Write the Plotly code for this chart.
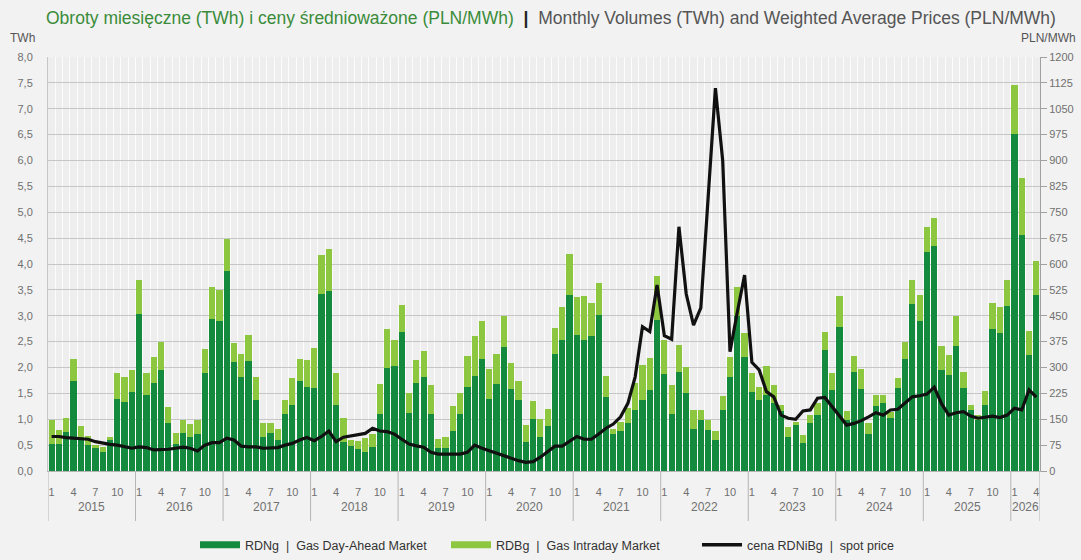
import plotly.graph_objects as go

# ---------------- data ----------------
years = [2015, 2016, 2017, 2018, 2019, 2020, 2021, 2022, 2023, 2024, 2025, 2026]
months_in_year = [12, 12, 12, 12, 12, 12, 12, 12, 12, 12, 12, 4]
month_ticks_shown = [1, 4, 7, 10]

# RDNg | Gas Day-Ahead Market (TWh)
rdng = [
    0.53, 0.53, 0.76, 1.74, 0.63, 0.50, 0.44, 0.37, 0.60, 1.40, 1.34, 1.52,   # 2015
    3.03, 1.47, 1.71, 1.96, 0.92, 0.53, 0.73, 0.66, 0.71, 1.90, 2.93, 2.89,   # 2016
    3.87, 2.10, 1.82, 2.13, 1.38, 0.65, 0.73, 0.60, 1.10, 1.28, 1.74, 1.62,   # 2017
    1.60, 3.43, 3.48, 1.28, 0.57, 0.48, 0.42, 0.37, 0.47, 1.10, 2.00, 2.03,   # 2018
    2.69, 1.13, 1.71, 1.82, 1.11, 0.44, 0.44, 0.77, 1.10, 1.63, 1.84, 2.16,   # 2019
    1.40, 1.69, 2.40, 1.58, 1.37, 0.57, 1.00, 0.66, 0.87, 2.26, 2.53, 3.40,   # 2020
    2.62, 2.53, 2.60, 3.01, 1.43, 0.71, 0.77, 0.92, 1.18, 1.37, 1.56, 2.92,   # 2021
    1.87, 1.10, 1.91, 1.51, 0.82, 0.99, 0.79, 0.60, 1.18, 1.82, 3.00, 2.21,   # 2022
    1.53, 1.37, 1.47, 1.31, 1.15, 0.66, 0.89, 0.55, 0.92, 1.08, 2.34, 1.56,   # 2023
    2.78, 0.99, 1.91, 1.59, 0.72, 1.25, 1.31, 1.03, 1.60, 2.16, 3.22, 2.90,   # 2024
    4.24, 4.34, 1.95, 1.86, 2.42, 1.60, 1.17, 0.99, 1.28, 2.74, 2.66, 3.18,   # 2025
    6.51, 4.57, 2.24, 3.40,                                                   # 2026
]

# RDBg | Gas Intraday Market (TWh)
rdbg = [
    0.46, 0.26, 0.26, 0.42, 0.24, 0.18, 0.06, 0.09, 0.06, 0.50, 0.48, 0.43,   # 2015
    0.66, 0.43, 0.50, 0.53, 0.32, 0.21, 0.26, 0.25, 0.28, 0.45, 0.62, 0.61,   # 2016
    0.61, 0.38, 0.45, 0.49, 0.44, 0.27, 0.19, 0.22, 0.28, 0.51, 0.42, 0.52,   # 2017
    0.78, 0.74, 0.81, 0.61, 0.45, 0.12, 0.16, 0.27, 0.24, 0.59, 0.74, 0.51,   # 2018
    0.52, 0.38, 0.43, 0.50, 0.55, 0.17, 0.22, 0.49, 0.40, 0.59, 0.76, 0.74,   # 2019
    0.58, 0.57, 0.60, 0.51, 0.37, 0.32, 0.36, 0.34, 0.32, 0.50, 0.63, 0.79,   # 2020
    0.75, 0.86, 0.64, 0.63, 0.41, 0.11, 0.18, 0.30, 0.53, 0.68, 0.62, 0.84,   # 2021
    0.66, 0.56, 0.53, 0.50, 0.36, 0.18, 0.19, 0.18, 0.26, 0.39, 0.56, 0.45,   # 2022
    0.37, 0.25, 0.56, 0.35, 0.13, 0.20, 0.06, 0.15, 0.16, 0.23, 0.34, 0.33,   # 2023
    0.60, 0.16, 0.32, 0.39, 0.21, 0.22, 0.16, 0.11, 0.19, 0.33, 0.48, 0.50,   # 2024
    0.48, 0.54, 0.47, 0.38, 0.58, 0.31, 0.11, 0.09, 0.27, 0.51, 0.50, 0.51,   # 2025
    0.94, 1.10, 0.47, 0.65,                                                   # 2026
]

# cena RDNiBg | spot price (PLN/MWh)
price = [
    100, 100, 97, 95, 93, 92, 85, 80, 77, 75, 70, 66,              # 2015
    70, 68, 61, 61, 63, 66, 69, 66, 58, 75, 82, 82,                # 2016
    95, 90, 72, 70, 70, 66, 66, 68, 75, 80, 90, 97,                # 2017
    88, 100, 116, 85, 98, 101, 104, 109, 124, 116, 114, 107,       # 2018
    92, 78, 73, 69, 54, 49, 49, 49, 49, 54, 75, 66,                # 2019
    59, 51, 43, 37, 30, 25, 27, 40, 56, 72, 72, 85,                # 2020
    100, 92, 92, 107, 124, 136, 157, 196, 273, 418, 404, 539,      # 2021
    392, 382, 708, 513, 423, 473, 780, 1110, 900, 346, 460, 568,   # 2022
    315, 293, 230, 215, 162, 153, 150, 174, 177, 211, 213, 186,    # 2023
    157, 133, 138, 146, 157, 169, 162, 177, 179, 196, 215, 218,    # 2024
    223, 243, 195, 162, 169, 172, 159, 153, 155, 159, 155, 162,    # 2025
    182, 177, 235, 214,                                            # 2026
]

# ---------------- derived x positions ----------------
x = []
month_num = []
year_start_idx = []
idx = 0
for yr, nm in zip(years, months_in_year):
    year_start_idx.append(idx)
    for m in range(1, nm + 1):
        x.append(idx)
        month_num.append(m)
        idx += 1
n = len(x)

tickvals = [i for i, m in zip(x, month_num) if m in month_ticks_shown]
ticktext = [str(m) for m, i in zip(month_num, x) if m in month_ticks_shown]

# ---------------- pixel helpers ----------------
W, H = 1081, 560
L, R, T, B = 48, 41, 57, 89
PW, PH = W - L - R, H - T - B


def px_x(p):
    return (p - L) / PW


def px_y(p):
    return (H - B - p) / PH


DARK = "#148a3f"
LIGHT = "#8dc63f"
FONT = "Liberation Sans, Arial, sans-serif"
TICK_COLOR = "#707070"

fig = go.Figure()
fig.add_trace(go.Bar(x=x, y=rdng, marker=dict(color=DARK, line=dict(width=0)),
                     name="RDNg  |  Gas Day-Ahead Market", showlegend=False))
fig.add_trace(go.Bar(x=x, y=rdbg, marker=dict(color=LIGHT, line=dict(width=0)),
                     name="RDBg  |  Gas Intraday Market", showlegend=False))
fig.add_trace(go.Scatter(x=x, y=price, yaxis="y2", mode="lines",
                         line=dict(color="#111111", width=3.2),
                         name="cena RDNiBg  |  spot price", showlegend=False))

# legend entries (wide swatches like the reference)
fig.add_trace(go.Scatter(x=[None], y=[None], mode="lines",
                         line=dict(color=DARK, width=7),
                         name="RDNg  |  Gas Day-Ahead Market"))
fig.add_trace(go.Scatter(x=[None], y=[None], mode="lines",
                         line=dict(color=LIGHT, width=7),
                         name="RDBg  |  Gas Intraday Market"))
fig.add_trace(go.Scatter(x=[None], y=[None], mode="lines",
                         line=dict(color="#111111", width=3.5),
                         name="cena RDNiBg  |  spot price"))

shapes = []
bounds = year_start_idx + [n]
for b in bounds:
    shapes.append(dict(type="line", xref="x", yref="paper",
                       x0=b - 0.5, x1=b - 0.5, y0=0, y1=px_y(521),
                       line=dict(color="#b5b5b5", width=1)))

annotations = []
for yr, s, nm in zip(years, year_start_idx, months_in_year):
    annotations.append(dict(x=s + (nm - 1) / 2, y=px_y(507), xref="x", yref="paper",
                            text=str(yr), showarrow=False, yanchor="middle",
                            font=dict(size=12, color=TICK_COLOR, family=FONT)))

title_text = ("<span style='color:#3a8c3a'>Obroty miesięczne (TWh) i ceny średnioważone (PLN/MWh)</span>"
              "<span style='color:#222'>  <b>|</b>  </span>"
              "<span style='color:#555'>Monthly Volumes (TWh) and Weighted Average Prices (PLN/MWh)</span>")
annotations.append(dict(x=px_x(551), y=px_y(18), xref="paper", yref="paper",
                        text=title_text, showarrow=False, xanchor="center", yanchor="middle",
                        font=dict(size=17.5, family=FONT)))
annotations.append(dict(x=px_x(8), y=px_y(38), xref="paper", yref="paper",
                        text="TWh", showarrow=False, xanchor="left", yanchor="middle",
                        font=dict(size=12, color="#555", family=FONT)))
annotations.append(dict(x=px_x(1078), y=px_y(38), xref="paper", yref="paper",
                        text="PLN/MWh", showarrow=False, xanchor="right", yanchor="middle",
                        font=dict(size=12, color="#555", family=FONT)))

fig.update_layout(
    width=W, height=H, autosize=False,
    margin=dict(l=L, r=R, t=T, b=B, pad=0, autoexpand=False),
    paper_bgcolor="#f2f2f2",
    plot_bgcolor="#eeeeee",
    separators=", ",
    barmode="stack",
    bargap=0.14,
    font=dict(family=FONT, color="#444"),
    shapes=shapes,
    annotations=annotations,
    legend=dict(orientation="h", x=px_x(195), xanchor="left", y=px_y(545), yanchor="middle",
                font=dict(size=12.5, color="#333", family=FONT), itemwidth=40,
                entrywidth=196, entrywidthmode="pixels",
                bgcolor="rgba(0,0,0,0)", traceorder="normal"),
    xaxis=dict(range=[-0.5, n - 0.5], tickmode="array", tickvals=tickvals, ticktext=ticktext,
               showgrid=False, zeroline=False, ticks="outside", ticklen=11,
               tickcolor="rgba(0,0,0,0)", automargin=False,
               tickfont=dict(size=11, color=TICK_COLOR, family=FONT),
               showline=True, linecolor="#b5b5b5", linewidth=1,
               minor=dict(tickmode="linear", tick0=-0.5, dtick=1, showgrid=True,
                          gridcolor="#fcfcfc", gridwidth=1, ticks="")),
    yaxis=dict(range=[0, 8], dtick=0.5, tick0=0, tickformat=".1f",
               showgrid=True, gridcolor="#c6c6c6", gridwidth=1, zeroline=False,
               ticks="outside", ticklen=12, tickcolor="rgba(0,0,0,0)", automargin=False,
               tickfont=dict(size=11, color=TICK_COLOR, family=FONT),
               showline=True, linecolor="#c6c6c6"),
    yaxis2=dict(range=[0, 1200], dtick=75, tick0=0, overlaying="y", side="right",
                showgrid=False, zeroline=False, ticks="outside", ticklen=6, automargin=False,
                tickcolor="#a0a0a0", tickfont=dict(size=11, color=TICK_COLOR, family=FONT),
                showline=True, linecolor="#a0a0a0"),
)

fig.write_html(
    "out.html",
    config={"displayModeBar": False},
    post_script="document.body.style.margin='0px';document.body.style.background='#f2f2f2';",
)
